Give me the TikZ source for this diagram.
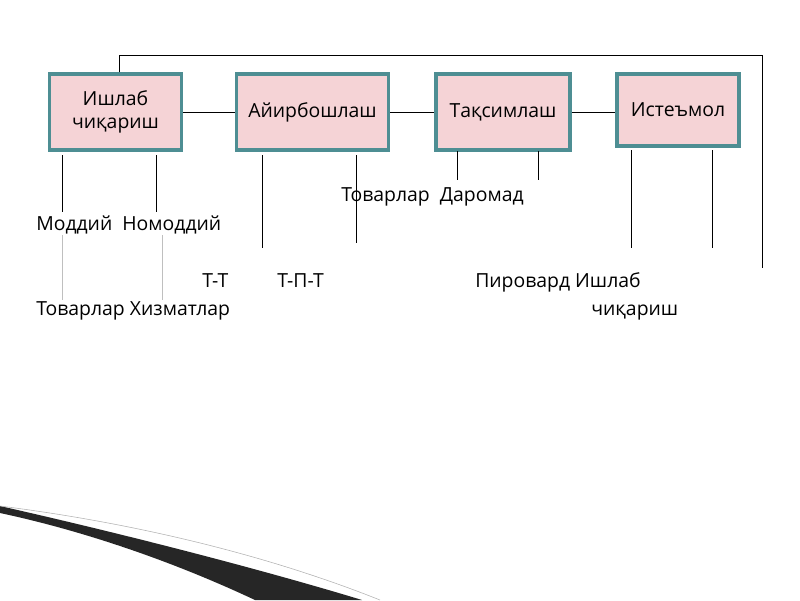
\documentclass[tikz,border=0pt]{standalone}
\usepackage{fontspec}
\setmainfont{Open Sans}
\usetikzlibrary{positioning}
\definecolor{boxfill}{HTML}{F5D3D6}
\definecolor{boxdraw}{HTML}{4E8E93}
\begin{document}
\begin{tikzpicture}
[
x=0.025cm, y=-0.025cm,
every node/.style={font=\fontsize{13.8}{16}\selectfont},
Stage/.style={rectangle,draw=boxdraw,fill=boxfill,line width=2.2pt,minimum height=1.9cm,align=center,inner sep=0pt},
Link/.style={draw=black, thin},
Faint/.style={draw=black!25, thin},
Label/.style={anchor=base west, inner sep=0pt},
]
\useasboundingbox (0,0) rectangle (800,600);

% decoration at the bottom
\fill[black!85] (0,506) .. controls (150,540) and (280,575) .. (362,600) -- (255,600) .. controls (170,560) and (80,530) .. (0,513) -- cycle;
\draw[black!30, thin] (0,506) .. controls (150,525) and (280,560) .. (380,600);

\node[Stage, minimum width=3.3cm] (prod) at (115.5,112) {Ишлаб\\чиқариш};
\node[Stage, minimum width=3.8cm] (exch) at (312.5,112) {Айирбошлаш};
\node[Stage, minimum width=3.35cm] (dist) at (503,112) {Тақсимлаш};
\node[Stage, minimum width=3.05cm, minimum height=1.8cm] (cons) at (678,110) {Истеъмол};

\draw[Link] (prod) -- (exch);
\draw[Link] (exch) -- (dist);
\draw[Link] (dist.east) -- (dist.east -| cons.west);

\coordinate (top1) at (119,55);
\coordinate (top2) at (762,55);
\coordinate (end) at (762,268);
\draw[Link] (prod.north -| top1) -- (top1) -- (top2) -- (end);

\draw[Link] (62,155) -- (62,212);
\draw[Link] (156,155) -- (156,212);
\draw[Faint] (62,235) -- (62,300);
\draw[Faint] (162,235) -- (162,300);
\draw[Link] (262,155) -- (262,248);
\draw[Link] (356,155) -- (356,243);
\draw[Link] (457,151) -- (457,180);
\draw[Link] (538,151) -- (538,180);
\draw[Link] (631,150) -- (631,248);
\draw[Link] (712,150) -- (712,248);

\node[Label] (mat) at (36,230) {Моддий\ \ Номоддий};
\node[Label] (goods) at (36,315) {Товарлар Хизматлар};
\node[Label] (tt) at (202,287) {Т-Т};
\node[Label] (tpt) at (277,287) {Т-П-Т};
\node[Label] (inc) at (341,201) {Товарлар\ \ Даромад};
\node[Label] (fin) at (475,287) {Пировард Ишлаб};
\node[Label] (fin2) at (591,315) {чиқариш};
\end{tikzpicture}
\end{document}
